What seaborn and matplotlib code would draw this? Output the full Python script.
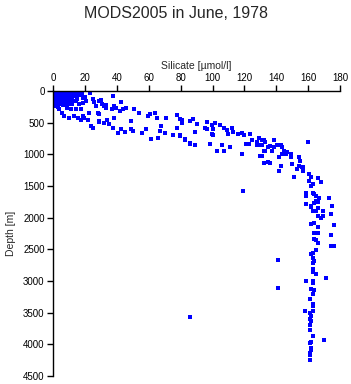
import pandas as pd
import matplotlib
matplotlib.use("Agg")
import matplotlib.pyplot as plt
import seaborn as sns

# Silicate [umol/l], depth [m] pairs
surface = [(0.5, 0), (1, 10), (2, 0), (3, 5), (4, 0), (5, 10), (6, 0), (7, 5), (8, 0), (9, 10),
           (10, 0), (11, 5), (12, 0), (13, 20), (14, 10), (0.5, 30), (1.5, 50), (2.5, 30), (3.5, 45),
           (4.5, 30), (6, 50), (7, 30), (8.5, 45), (10, 30), (11, 50), (12.5, 35), (14, 45),
           (0.5, 75), (2, 90), (3, 70), (4.5, 85), (5.5, 70), (7, 95), (8, 75), (9.5, 90), (11, 75),
           (12, 100), (13.5, 80), (1, 110), (2, 125), (3.5, 110), (5, 130), (6.5, 115), (8, 125),
           (9, 110), (10.5, 130), (12, 120), (0.5, 150), (2, 165), (3, 150), (4.5, 170), (6, 155),
           (7.5, 175), (9, 160), (11, 170), (13, 150), (1, 190), (2.5, 205), (4, 190), (6, 215),
           (8, 195), (10, 200), (1.5, 240), (3, 260), (12, 185), (15, 130), (16, 70), (18, 50),
           (20, 90), (15.4, 0), (17.5, 27), (23, 27), (18.5, 107), (20.6, 160), (24.8, 122),
           (26, 175), (29, 160), (31, 212), (33, 228), (27, 240), (28, 345), (22.7, 345),
           (17.5, 292), (14.3, 292), (11.2, 282), (9, 265), (5.9, 345), (7, 387), (10, 425),
           (13, 398), (15.4, 425), (17.5, 450), (19.6, 425), (21.7, 450), (18.5, 398), (23.8, 557),
           (25, 584), (29, 478), (32, 505), (34, 450), (3.8, 292), (2.7, 240), (4.9, 212), (8, 212),
           (12, 212), (16.4, 212), (18.5, 186), (14.3, 160), (1, 60), (5, 60), (9, 60), (13, 60),
           (3, 140), (7, 140), (11, 145), (5, 180), (9, 185), (15, 100)]

band = [(37.5, 80), (30, 143), (32, 240), (33, 265), (38.5, 240), (39.6, 265), (37, 287),
        (42.8, 175), (41.7, 318), (44, 287), (46, 265), (51, 287), (54, 345), (60.6, 366),
        (59.4, 398), (63.8, 350), (64.9, 425), (71, 425), (77.5, 382), (79.6, 446), (80.6, 505),
        (86, 478), (29, 366), (29, 494), (38.5, 425), (49, 478), (35.4, 525), (37.5, 584),
        (42.8, 600), (40.5, 664), (45, 653), (49, 600), (50, 637), (58.5, 600), (56, 669),
        (68, 557), (67, 637), (70, 664), (77.5, 584), (75.4, 690), (79.6, 717), (61.7, 760),
        (66, 743), (82.8, 760), (86, 828), (80.6, 462), (79.6, 700), (82.8, 770), (86, 473),
        (88, 446), (90, 515), (89, 648), (86, 833), (89, 850), (96.5, 488), (95.5, 578),
        (96.5, 595), (99.6, 541), (100.6, 595), (101.7, 505), (100.6, 700), (99.6, 674),
        (98.5, 833), (102.8, 940), (104.9, 541), (107, 578), (109, 610), (110, 674), (106, 850),
        (102.8, 955), (107, 950), (111, 886), (112, 578), (113, 648), (116, 674), (118.6, 658),
        (119.6, 700), (123.8, 674), (125, 780), (120.7, 833), (118.6, 992), (122.7, 833),
        (129, 743), (131, 770), (132, 780), (128, 807), (128, 850), (130, 860), (133, 940),
        (130, 1020), (132, 1135), (135, 1125), (135, 886), (131, 860), (133, 807), (138.5, 780),
        (136, 876), (138.5, 886), (140.6, 860), (142.7, 845), (143.8, 886), (132, 940),
        (137.5, 940), (145, 940), (147, 966), (143.8, 992), (146, 992), (149, 992), (141.7, 1045),
        (149, 1045), (131, 1020), (154, 1045), (155, 1100), (150, 1152), (154, 1180), (156, 1205),
        (157, 1205), (153, 1232), (157, 1258), (132, 1140), (136, 1140), (142.7, 1180),
        (141.7, 1258), (151, 1365), (159.6, 812)]

deep = [(160.6, 1311), (162, 1353), (160.6, 1417), (162.7, 1470), (166, 1375), (168, 1444),
        (162, 1497), (162.7, 1603), (158.6, 1603), (163.8, 1629), (165, 1656), (167, 1683),
        (165, 1736), (163.8, 1763), (158.6, 1789), (162, 1815), (166, 1842), (169, 1895),
        (162.7, 1895), (173, 1683), (158.6, 1656), (166, 1752), (162, 1831), (175, 1815),
        (165, 1895), (166, 1975), (169, 1975), (168, 2010), (174, 1948), (163.8, 2080),
        (162, 2107), (166, 2150), (176, 2118), (163.8, 2240), (166, 2240), (174, 2277),
        (163.4, 2330), (165, 2346), (166, 2400), (174, 2452), (176, 2452), (165, 2505),
        (162.7, 2559), (162, 2575), (163, 2640), (163.8, 2681), (162.7, 2718), (163, 2808),
        (163, 2866), (165, 2887), (171, 2946), (158.6, 3000), (163, 2994), (162.7, 3036),
        (162, 3126), (163.4, 3142), (163, 3210), (161, 3290), (163, 3365), (163, 3391),
        (158, 3476), (163, 3476), (161, 3513), (162, 3555), (161, 3608), (162, 3630),
        (161, 3690), (161, 3770), (163, 3875), (170, 3933), (161, 3980), (162, 3970),
        (162, 4060), (162, 4088), (161, 4140), (161, 4167), (161, 4247)]

outliers = [(119, 1576), (141, 2665), (141, 3105), (86, 3567)]

x_ticks = list(range(0, 181, 20))
y_ticks = list(range(0, 4501, 500))

df = pd.DataFrame(surface + band + deep + outliers, columns=["silicate", "depth"])

sns.set_style("ticks")
plt.rcParams["font.family"] = ["Liberation Sans", "DejaVu Sans"]

fig = plt.figure(figsize=(3.51, 3.84), dpi=100)
ax = fig.add_axes([0.151, 0.021, 0.818, 0.742])
sns.scatterplot(data=df, x="silicate", y="depth", ax=ax, marker="s", s=7,
                color="#0000ff", linewidth=0)

ax.set_xlim(0, 180)
ax.set_ylim(4500, 0)
ax.set_xticks(x_ticks)
ax.set_yticks(y_ticks)
ax.xaxis.tick_top()
ax.xaxis.set_label_position("top")
ax.spines["right"].set_visible(False)
ax.spines["bottom"].set_visible(False)
for s in ["left", "top"]:
    ax.spines[s].set_linewidth(1.0)
    ax.spines[s].set_color("black")
ax.tick_params(axis="both", length=4, width=1, labelsize=7, pad=2, colors="black")
ax.set_xlabel("Silicate [µmol/l]", fontsize=7.5, labelpad=3)
ax.set_ylabel("Depth [m]", fontsize=7.5, labelpad=5)
fig.suptitle("MODS2005 in June, 1978", fontsize=11.5, y=0.985)

fig.savefig("out.png", dpi=100)
plt.close()
